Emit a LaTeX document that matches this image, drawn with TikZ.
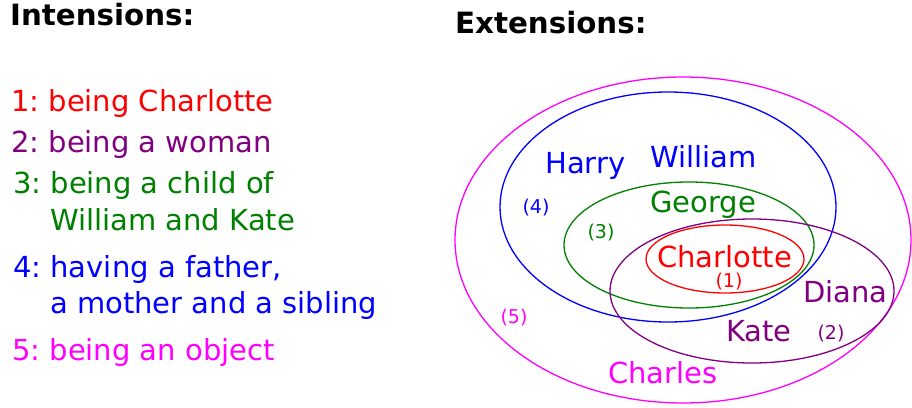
\documentclass[tikz,border=0pt]{standalone}
\usepackage{fontspec}
\setmainfont{DejaVu Sans}
\frenchspacing
\definecolor{cred}{HTML}{FF0000}
\definecolor{cpurple}{HTML}{800080}
\definecolor{cgreen}{HTML}{008000}
\definecolor{cblue}{HTML}{0000FF}
\definecolor{cmag}{HTML}{FF00FF}
\tikzset{
  txt/.style={anchor=base west,inner sep=0pt,font=\fontsize{29}{34}\selectfont},
  head/.style={anchor=base west,inner sep=0pt,font=\fontsize{29.3}{34}\selectfont\bfseries},
  num/.style={anchor=base,inner sep=0pt,font=\fontsize{19}{22}\selectfont},
  set/.style={line width=1.3pt}
}
\begin{document}
\begin{tikzpicture}[x=1pt,y=-1pt]
\useasboundingbox (0,0) rectangle (912,407);
% left column
\node[head] (hi) at (10,25) {Intensions:};
\node[txt,cred] (i1) at (11,111) {1: being Charlotte};
\node[txt,cpurple] (i2) at (11,152) {2: being a woman};
\node[txt,cgreen] (i3) at (13,193) {3: being a child of};
\node[txt,cgreen] (i3b) at (50,230) {William and Kate};
\node[txt,cblue] (i4) at (13,277) {4: having a father,};
\node[txt,cblue] (i4b) at (50,313) {a mother and a sibling};
\node[txt,cmag] (i5) at (12,360) {5: being an object};
% right column
\node[head] (he) at (455,33) {Extensions:};
\draw[set,cmag] (683,240) ellipse [x radius=228,y radius=163];
\draw[set,cblue] (668,207) ellipse [x radius=168,y radius=115];
\draw[set,cgreen] (689,245) ellipse [x radius=125,y radius=63];
\draw[set,cpurple] (752,291) ellipse [x radius=142,y radius=72];
\draw[set,cred] (725,259) ellipse [x radius=79,y radius=34];
\node[txt,cblue] (harry) at (545,173) {Harry};
\node[txt,cblue] (william) at (650,167) {William};
\node[txt,cgreen] (george) at (650,212) {George};
\node[txt,cred] (charlotte) at (657,267) {Charlotte};
\node[txt,cpurple] (diana) at (803,302) {Diana};
\node[txt,cpurple] (kate) at (726,341) {Kate};
\node[txt,cmag] (charles) at (608,383) {Charles};
\node[num,cred] (n1) at (729,287) {(1)};
\node[num,cpurple] (n2) at (831,339) {(2)};
\node[num,cgreen] (n3) at (601,238) {(3)};
\node[num,cblue] (n4) at (536,213) {(4)};
\node[num,cmag] (n5) at (514,323) {(5)};
\end{tikzpicture}
\end{document}
